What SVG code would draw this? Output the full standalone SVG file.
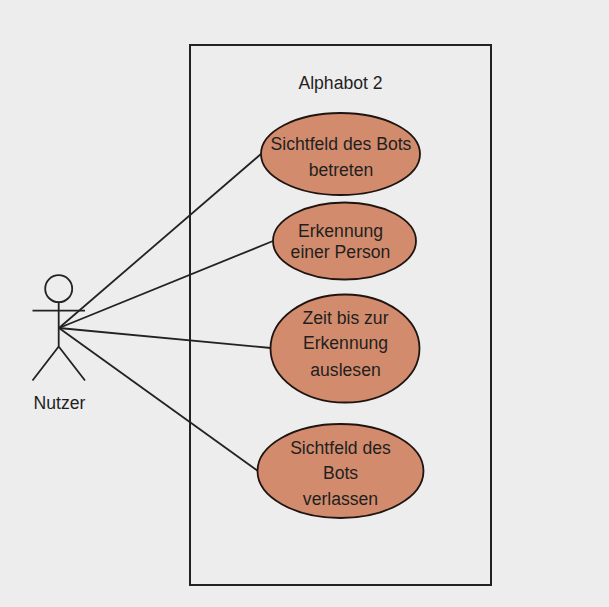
<svg xmlns="http://www.w3.org/2000/svg" width="609" height="607" viewBox="0 0 609 607">
<style>
.t{font-family:"Liberation Sans",Arial,sans-serif;font-size:17.6px;fill:#1f1f1f;text-anchor:middle}
.e{fill:#d28c6d;stroke:#1f1410;stroke-width:1.8}
.l{fill:none;stroke:#222222;stroke-width:1.8}
</style>
<rect width="609" height="607" fill="#ededed"/>
<g id="system"><rect x="190" y="45" width="301" height="540" fill="none" stroke="#222222" stroke-width="2"/><text class="t" x="340.500" y="89">Alphabot 2</text></g>
<g id="connectors">
<path class="l" d="M59 328L261 154"/><path class="l" d="M59 328L273 241"/><path class="l" d="M59 328L271 348"/><path class="l" d="M59 328L258 471"/>
</g>
<g id="actor"><circle class="l" cx="58.700" cy="288.700" r="13.500"/><path class="l" d="M58.700 302.200V346.500M32.500 310.700H85M58.700 346.500L32.500 380.500M58.700 346.500L85 380.500"/><text class="t" x="59.500" y="409">Nutzer</text></g>
<g id="uc1"><ellipse class="e" cx="340.500" cy="154" rx="79.500" ry="41"/><text class="t" x="341" y="150">Sichtfeld des Bots</text><text class="t" x="341" y="176">betreten</text></g>
<g id="uc2"><ellipse class="e" cx="344.500" cy="241" rx="71.500" ry="38.500"/><text class="t" x="340.500" y="237">Erkennung</text><text class="t" x="340.500" y="258">einer Person</text></g>
<g id="uc3"><ellipse class="e" cx="345" cy="348.500" rx="74.500" ry="54"/><text class="t" x="345.500" y="324">Zeit bis zur</text><text class="t" x="345.500" y="349">Erkennung</text><text class="t" x="345.500" y="376">auslesen</text></g>
<g id="uc4"><ellipse class="e" cx="340.500" cy="471" rx="83" ry="47"/><text class="t" x="340.500" y="454">Sichtfeld des</text><text class="t" x="340.500" y="479">Bots</text><text class="t" x="340.500" y="505">verlassen</text></g>
</svg>
